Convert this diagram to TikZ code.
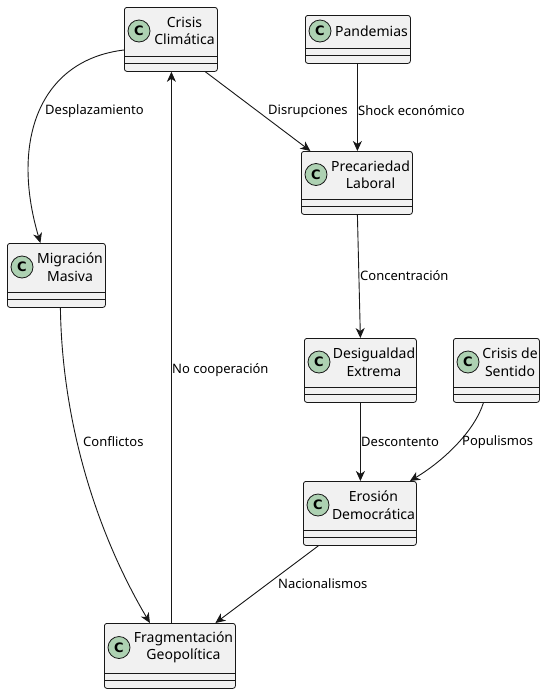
\documentclass[tikz,border=0pt]{standalone}
\usepackage{fontspec}
\setmainfont{Noto Sans}
\newfontfamily\spotfont{DejaVu Sans}
\usetikzlibrary{arrows.meta,calc}
\definecolor{boxfill}{HTML}{F1F1F1}
\definecolor{ink}{HTML}{181818}
\definecolor{cgreen}{HTML}{ADD1B2}
\tikzset{
 clsbox/.style={draw=ink, fill=boxfill, rounded corners=2.5pt, line width=0.8pt, anchor=north west, inner sep=0pt},
 spot/.style={circle, draw=ink, fill=cgreen, line width=0.8pt, minimum size=22pt, inner sep=0pt, font=\spotfont\fontsize{13}{13}\selectfont\bfseries},
 cname/.style={font=\fontsize{14}{17.5}\selectfont, align=center, inner sep=0pt, text=black},
 elabel/.style={font=\fontsize{13}{15}\selectfont, anchor=west, inner sep=0pt, text=black},
 arr/.style={draw=ink, line width=0.9pt, -{Stealth[length=10pt,width=9pt,inset=3pt]}},
 sepline/.style={draw=ink, line width=0.8pt},
}
\newcommand{\umlcls}[6]{%
 \pgfmathsetmacro\cw{#4-#2}\pgfmathsetmacro\ch{#5-#3}\pgfmathsetmacro\hh{\ch-16}%
 \node[clsbox, minimum width=\cw pt, minimum height=\ch pt] (#1) at (#2,#3) {};
 \draw[sepline] (#2,#5-15) -- (#4,#5-15) (#2,#5-7.5) -- (#4,#5-7.5);
 \node[spot] (#1-c) at (#2+15, #3+\hh/2) {C};
 \node[cname] (#1-t) at ({(#2+28+#4)/2}, #3+\hh/2) {#6};
}
\begin{document}
\begin{tikzpicture}[x=1pt,y=-1pt]
\useasboundingbox[fill=white] (0,0) rectangle (545,694);
\umlcls{CC}{124}{7}{217}{71}{Crisis\\Climática}
\umlcls{PAN}{305}{15}{410}{63}{Pandemias}
\umlcls{PL}{301}{151}{412}{214}{Precariedad\\Laboral}
\umlcls{MM}{7}{243}{105}{307}{Migración\\Masiva}
\umlcls{DE}{304}{338}{416}{402}{Desigualdad\\Extrema}
\umlcls{CS}{453}{338}{539}{402}{Crisis de\\Sentido}
\umlcls{ER}{303}{481}{416}{545}{Erosión\\Democrática}
\umlcls{FG}{104}{623}{235}{688}{Fragmentación\\Geopolítica}

\draw[arr] ([yshift=-43pt]CC.north west) .. controls (40,60) and (10,140) .. ([xshift=-16pt]MM.north);
\draw[arr] ([xshift=34.5pt]CC.south) -- ([xshift=-46.5pt]PL.north);
\draw[arr] ([xshift=-0.5pt]PAN.south) -- ([xshift=-0.5pt]PAN.south |- PL.north);
\draw[arr] ([xshift=0.5pt]PL.south) -- (DE.north);
\draw[arr] ([xshift=4pt]MM.south) .. controls (62,420) and (95,530) .. ([xshift=-20pt]FG.north);
\draw[arr] ([xshift=1.5pt]FG.north) -- ([xshift=1.5pt]FG.north |- CC.south);
\draw[arr] (DE.south) -- (DE.south |- ER.north);
\draw[arr] ([xshift=-13pt]CS.south) .. controls (475,430) and (445,460) .. ([xshift=50pt]ER.north);
\draw[arr] ([xshift=-41.5pt]ER.south) -- ([xshift=45.5pt]FG.north);

\node[elabel] (l1) at (45,111) {Desplazamiento};
\node[elabel] (l2) at (268,111) {Disrupciones};
\node[elabel] (l3) at (358,111) {Shock económico};
\node[elabel] (l4) at (360,276) {Concentración};
\node[elabel] (l5) at (83,442) {Conflictos};
\node[elabel] (l6) at (172,370) {No cooperación};
\node[elabel] (l7) at (361,442) {Descontento};
\node[elabel] (l8) at (462,442) {Populismos};
\node[elabel] (l9) at (278,584) {Nacionalismos};
\end{tikzpicture}
\end{document}
